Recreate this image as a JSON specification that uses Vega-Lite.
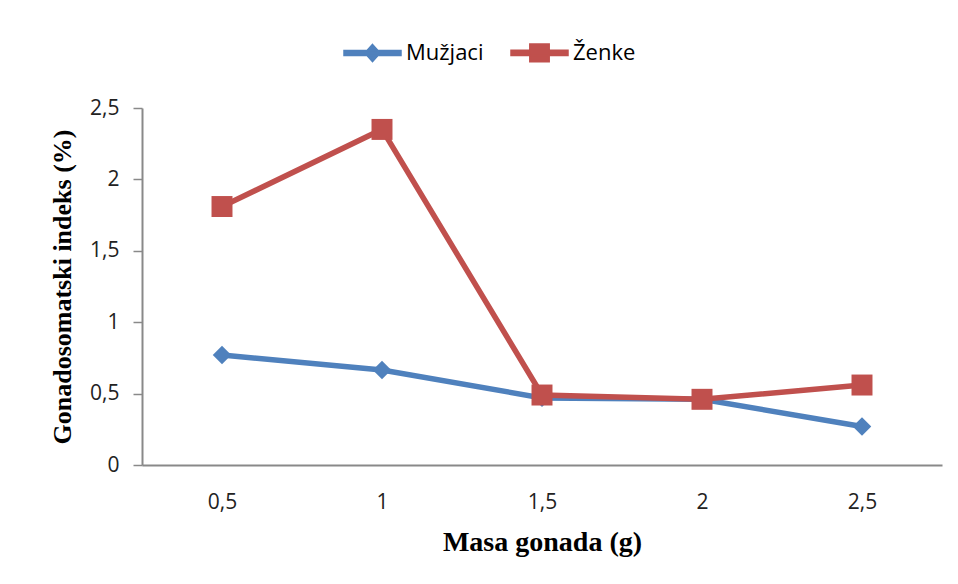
{
  "$schema": "https://vega.github.io/schema/vega-lite/v6.json",
  "width": 800,
  "height": 357,
  "autosize": "none",
  "padding": {"left": 142, "top": 108, "right": 16, "bottom": 119},
  "background": "white",
  "data": {
    "values": [
      {"masa": 0.5, "spol": "Mužjaci", "gsi": 0.77},
      {"masa": 1.0, "spol": "Mužjaci", "gsi": 0.665},
      {"masa": 1.5, "spol": "Mužjaci", "gsi": 0.47},
      {"masa": 2.0, "spol": "Mužjaci", "gsi": 0.46},
      {"masa": 2.5, "spol": "Mužjaci", "gsi": 0.27},
      {"masa": 0.5, "spol": "Ženke", "gsi": 1.81},
      {"masa": 1.0, "spol": "Ženke", "gsi": 2.35},
      {"masa": 1.5, "spol": "Ženke", "gsi": 0.49},
      {"masa": 2.0, "spol": "Ženke", "gsi": 0.46},
      {"masa": 2.5, "spol": "Ženke", "gsi": 0.56}
    ]
  },
  "encoding": {
    "x": {
      "field": "masa", "type": "ordinal",
      "scale": {"type": "point", "padding": 0.5},
      "axis": {
        "title": "Masa gonada (g)",
        "labelAngle": 0,
        "labelExpr": "replace(datum.label, '.', ',')",
        "ticks": false,
        "labelPadding": 26,
        "domainColor": "#898989",
        "domainWidth": 2,
        "labelFont": "Open Sans", "labelFontSize": 21, "labelColor": "#222",
        "titleFont": "Liberation Serif", "titleFontSize": 28, "titleFontWeight": "bold", "titleColor": "#000",
        "titlePadding": 16,
        "grid": false
      }
    },
    "y": {
      "field": "gsi", "type": "quantitative",
      "scale": {"domain": [0, 2.5], "nice": false},
      "axis": {
        "title": "Gonadosomatski indeks (%)",
        "values": [0, 0.5, 1, 1.5, 2, 2.5],
        "labelExpr": "replace(format(datum.value, '~g'), '.', ',')",
        "tickSize": 9, "tickColor": "#898989", "tickWidth": 1.5,
        "labelPadding": 14,
        "domainColor": "#898989",
        "domainWidth": 2,
        "labelFont": "Open Sans", "labelFontSize": 21, "labelColor": "#222",
        "titleFont": "Liberation Serif", "titleFontSize": 26, "titleFontWeight": "bold", "titleColor": "#000",
        "titlePadding": 14,
        "grid": false
      }
    },
    "color": {
      "field": "spol", "type": "nominal",
      "scale": {"domain": ["Mužjaci", "Ženke"], "range": ["#4F81BD", "#C0504D"]},
      "legend": {
        "title": null,
        "orient": "none",
        "direction": "horizontal",
        "legendX": 201,
        "legendY": -85,
        "symbolSize": 3249,
        "labelFont": "Open Sans",
        "labelFontSize": 22,
        "labelColor": "#000",
        "labelOffset": 4,
        "columnPadding": 24,
        "encode": {
          "symbols": {
            "update": {
              "shape": {"signal": "datum.value === 'Mužjaci' ? 'M-1,-0.09H1V0.09H-1Z M0,-0.3L0.27,0L0,0.3L-0.27,0Z' : 'M-1,-0.09H1V0.09H-1Z M-0.34,-0.31H0.34V0.31H-0.34Z'"},
              "size": {"value": 3249},
              "fill": {"scale": "color", "field": "value"},
              "stroke": {"value": "transparent"},
              "opacity": {"value": 1}
            }
          }
        }
      }
    }
  },
  "layer": [
    {"mark": {"type": "line", "strokeWidth": 5.5}},
    {
      "transform": [{"filter": "datum.spol === 'Mužjaci'"}],
      "mark": {"type": "point", "filled": true, "opacity": 1, "shape": "diamond", "size": 340}
    },
    {
      "transform": [{"filter": "datum.spol === 'Ženke'"}],
      "mark": {"type": "point", "filled": true, "opacity": 1, "shape": "square", "size": 440}
    }
  ],
  "config": {"view": {"stroke": null}}
}
